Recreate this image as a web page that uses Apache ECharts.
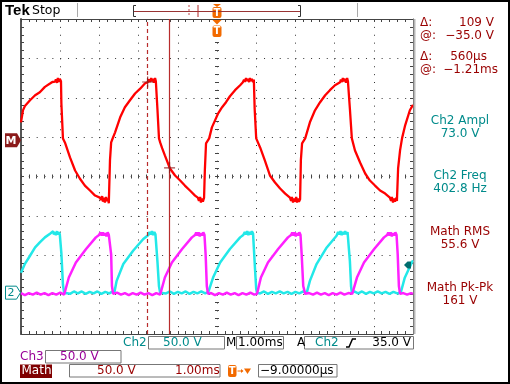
<!DOCTYPE html>
<html><head><meta charset="utf-8">
<script src="https://cdn.jsdelivr.net/npm/echarts@6/dist/echarts.min.js"></script>
<style>html,body{margin:0;padding:0;background:#fff}#c{width:510px;height:384px}</style>
</head><body><div id="c"></div>
<script>
// ---- data (time in ms relative to trigger, values in volts) ----
const timeRange = [-5, 5];
const mathData = [[-5.00,22.8],[-4.95,38.0],[-4.90,43.5],[-4.77,50.8],[-4.64,57.2],[-4.52,61.0],[-4.39,67.8],[-4.26,72.0],[-4.20,74.0],[-4.13,74.5],[-4.11,77.5],[-4.08,73.0],[-4.06,79.0],[-4.03,74.0],[-4.01,78.0],[-3.98,75.0],[-3.97,47.0],[-3.93,2.4],[-3.88,-2.7],[-3.75,-21.8],[-3.62,-38.4],[-3.50,-48.5],[-3.37,-57.5],[-3.24,-63.8],[-3.11,-70.2],[-2.99,-72.8],[-2.96,-76.0],[-2.93,-71.0],[-2.91,-78.0],[-2.88,-73.0],[-2.86,-79.0],[-2.83,-72.0],[-2.81,-77.0],[-2.78,-74.0],[-2.76,-80.0],[-2.73,-25.6],[-2.70,-2.7],[-2.68,0.0],[-2.60,10.1],[-2.47,29.2],[-2.35,41.9],[-2.22,50.8],[-2.09,59.4],[-1.96,65.5],[-1.84,72.0],[-1.76,74.0],[-1.74,77.5],[-1.71,74.0],[-1.68,79.0],[-1.66,75.0],[-1.63,78.0],[-1.61,73.0],[-1.58,79.0],[-1.56,75.0],[-1.53,77.0],[-1.52,40.0],[-1.48,2.4],[-1.45,-2.7],[-1.40,-10.0],[-1.33,-19.2],[-1.20,-35.8],[-1.07,-44.7],[-0.94,-51.1],[-0.82,-57.5],[-0.69,-63.8],[-0.56,-70.2],[-0.49,-72.8],[-0.46,-77.0],[-0.43,-72.0],[-0.41,-79.0],[-0.38,-74.0],[-0.36,-78.0],[-0.33,-73.0],[-0.31,-38.4],[-0.28,-4.0],[-0.20,2.4],[-0.13,16.4],[-0.05,25.3],[0.03,34.3],[0.13,42.0],[0.23,48.3],[0.33,55.9],[0.46,63.6],[0.59,69.9],[0.66,73.7],[0.69,77.0],[0.71,74.0],[0.74,79.0],[0.77,75.0],[0.79,78.0],[0.82,74.0],[0.84,79.0],[0.87,75.0],[0.89,78.0],[0.92,74.0],[0.94,77.0],[0.96,40.6],[1.00,2.4],[1.10,-9.1],[1.22,-25.6],[1.35,-44.7],[1.48,-53.6],[1.61,-61.3],[1.74,-67.7],[1.86,-72.8],[1.89,-77.0],[1.91,-72.0],[1.94,-79.0],[1.96,-74.0],[1.99,-78.0],[2.02,-72.0],[2.04,-79.0],[2.07,-74.0],[2.09,-78.0],[2.12,-75.0],[2.14,-25.0],[2.17,-4.0],[2.25,2.4],[2.37,22.8],[2.50,38.1],[2.63,48.3],[2.76,57.2],[2.88,63.6],[3.01,69.9],[3.14,73.7],[3.16,77.0],[3.19,74.0],[3.21,79.0],[3.24,75.0],[3.27,78.0],[3.29,73.0],[3.32,79.0],[3.34,75.0],[3.37,77.0],[3.39,40.0],[3.44,2.4],[3.52,-12.9],[3.65,-28.2],[3.78,-42.2],[3.90,-51.1],[4.03,-57.5],[4.16,-63.8],[4.29,-67.7],[4.41,-72.8],[4.44,-77.0],[4.46,-72.0],[4.49,-79.0],[4.52,-74.0],[4.54,-78.0],[4.57,-73.0],[4.59,-77.0],[4.62,-35.8],[4.67,-12.9],[4.72,2.4],[4.80,19.0],[4.92,38.1],[5.00,45.0]];
const ch2Data = [[-5.00,25.2],[-4.90,36.6],[-4.77,46.9],[-4.64,57.4],[-4.52,63.8],[-4.39,70.2],[-4.26,74.9],[-4.24,77.0],[-4.21,73.0],[-4.18,78.0],[-4.16,74.0],[-4.13,77.0],[-4.11,73.0],[-4.08,78.0],[-4.06,74.0],[-4.03,77.0],[-4.01,74.0],[-3.98,76.0],[-3.97,50.0],[-3.93,10.0],[-3.90,0.0],[-3.85,1.0],[-3.75,-1.5],[-3.65,1.5],[-3.55,-1.0],[-3.45,1.5],[-3.35,-1.5],[-3.25,1.0],[-3.15,-1.0],[-3.05,1.5],[-2.95,-1.5],[-2.85,1.0],[-2.75,-1.0],[-2.68,1.0],[-2.62,0.0],[-2.56,15.0],[-2.39,36.3],[-2.14,53.2],[-1.88,68.1],[-1.75,73.2],[-1.72,77.0],[-1.69,74.0],[-1.66,78.0],[-1.63,73.0],[-1.60,77.0],[-1.57,74.0],[-1.54,76.0],[-1.52,40.0],[-1.48,8.0],[-1.45,0.0],[-1.40,1.5],[-1.30,-1.0],[-1.20,1.5],[-1.10,-1.5],[-1.00,1.0],[-0.90,-1.0],[-0.80,1.5],[-0.70,-1.5],[-0.60,1.0],[-0.50,-1.0],[-0.40,1.5],[-0.30,-1.0],[-0.22,1.0],[-0.18,0.0],[-0.10,19.2],[0.08,38.3],[0.33,55.4],[0.59,70.2],[0.67,73.2],[0.71,77.0],[0.74,74.0],[0.77,78.0],[0.80,73.0],[0.83,77.0],[0.86,74.0],[0.89,78.0],[0.92,75.0],[0.94,74.0],[0.97,30.0],[1.00,5.0],[1.02,0.0],[1.10,-1.0],[1.20,1.5],[1.30,-1.5],[1.40,1.0],[1.50,-1.0],[1.60,1.5],[1.70,-1.0],[1.80,1.0],[1.90,-1.5],[2.00,1.0],[2.10,-1.0],[2.20,1.5],[2.25,-1.0],[2.29,0.0],[2.37,15.0],[2.54,36.3],[2.80,57.4],[3.05,72.3],[3.09,77.0],[3.12,74.0],[3.15,78.0],[3.18,73.0],[3.21,77.0],[3.24,74.0],[3.27,78.0],[3.30,74.0],[3.33,77.0],[3.36,75.0],[3.39,40.0],[3.42,8.0],[3.44,0.0],[3.50,1.5],[3.60,-1.0],[3.70,1.5],[3.80,-1.5],[3.90,1.0],[4.00,-1.0],[4.10,1.5],[4.20,-1.0],[4.30,1.0],[4.40,-1.5],[4.50,1.0],[4.60,-1.0],[4.69,0.5],[4.71,0.0],[4.79,19.0],[4.97,38.3],[5.00,41.0]];
const ch3Data = [[-5.00,1.0],[-4.90,-1.5],[-4.80,1.0],[-4.70,-1.0],[-4.60,1.5],[-4.50,-1.0],[-4.40,1.0],[-4.30,-1.5],[-4.20,1.0],[-4.10,-1.0],[-4.00,1.5],[-3.90,-1.0],[-3.85,0.0],[-3.78,20.7],[-3.60,39.8],[-3.34,56.9],[-3.09,71.7],[-3.01,74.7],[-2.97,78.0],[-2.94,74.0],[-2.91,78.0],[-2.88,74.0],[-2.85,77.0],[-2.82,73.0],[-2.79,78.0],[-2.76,75.0],[-2.73,77.0],[-2.70,50.0],[-2.68,10.0],[-2.65,0.0],[-2.55,1.5],[-2.45,-1.0],[-2.35,1.0],[-2.25,-1.5],[-2.15,1.0],[-2.05,-1.0],[-1.95,1.5],[-1.85,-1.0],[-1.75,1.0],[-1.65,-1.5],[-1.55,1.0],[-1.45,-1.0],[-1.40,0.0],[-1.33,20.7],[-1.15,39.8],[-0.89,56.9],[-0.64,71.7],[-0.56,74.7],[-0.53,78.0],[-0.50,74.0],[-0.47,78.0],[-0.44,73.0],[-0.41,77.0],[-0.38,74.0],[-0.35,78.0],[-0.32,75.0],[-0.29,50.0],[-0.26,10.0],[-0.23,0.0],[-0.15,1.0],[-0.05,-1.5],[0.05,1.0],[0.15,-1.0],[0.25,1.5],[0.35,-1.0],[0.45,1.0],[0.55,-1.5],[0.65,1.0],[0.75,-1.0],[0.85,1.5],[0.95,-1.0],[1.02,0.0],[1.05,0.0],[1.12,20.7],[1.30,39.8],[1.56,56.9],[1.81,71.7],[1.89,74.7],[1.92,78.0],[1.95,74.0],[1.98,78.0],[2.01,73.0],[2.04,77.0],[2.07,74.0],[2.10,78.0],[2.13,75.0],[2.16,50.0],[2.20,10.0],[2.25,0.0],[2.35,1.0],[2.45,-1.0],[2.55,1.5],[2.65,-1.0],[2.75,1.0],[2.85,-1.5],[2.95,1.0],[3.05,-1.0],[3.15,1.5],[3.25,-1.0],[3.35,1.0],[3.45,0.0],[3.50,0.0],[3.57,20.7],[3.75,39.8],[4.01,56.9],[4.26,71.7],[4.34,74.7],[4.37,78.0],[4.40,74.0],[4.43,78.0],[4.46,73.0],[4.49,77.0],[4.52,74.0],[4.55,78.0],[4.58,75.0],[4.61,50.0],[4.64,10.0],[4.67,0.0],[4.75,1.0],[4.85,-1.0],[4.95,1.0],[5.00,0.0]];
const cursorTimes = [-1.77, -1.21];
const cursorVolts = [74, -35];
const trigLevel = 35;
// vertical scales: V/div and offset of zero in divisions from screen centre
const mathScale = [50, 0.92];
const ch2Scale = [50, -2.95];
const ch3Scale = [50, -2.98];
const cursorReadout = [['Δ:', '109 V'], ['@:', '−35.0 V'], ['Δ:', '560µs'], ['@:', '−1.21ms']];
const measLabels = [['Ch2 Ampl', '73.0 V'], ['Ch2 Freq', '402.8 Hz'], ['Math RMS', '55.6 V'], ['Math Pk-Pk', '161 V']];

// ---- chart ----
const DIVS_Y = 4;
function rangeFor(s) { return [(-DIVS_Y - s[1]) * s[0], (DIVS_Y - s[1]) * s[0]]; }
const mR = rangeFor(mathScale), c2R = rangeFor(ch2Scale), c3R = rangeFor(ch3Scale);

const chart = echarts.init(document.getElementById('c'), null, {renderer: 'canvas', width: 510, height: 384});
const dark = '#444';
function xAx(pos, extra) {
  return Object.assign({type: 'value', min: timeRange[0], max: timeRange[1], interval: 1, position: pos,
    axisLabel: {show: false}, splitLine: {show: false}}, extra);
}
function yAx(pos, extra) {
  return Object.assign({type: 'value', min: -4, max: 4, interval: 1, position: pos,
    axisLabel: {show: false}, splitLine: {show: false}}, extra);
}
const bTick = {show: true, inside: true, length: 3, lineStyle: {color: dark, width: 1}};
const bMinor = {show: true, splitNumber: 5, length: 3, lineStyle: {color: dark, width: 1}};
const cTickIn = {show: true, inside: true, length: 2, lineStyle: {color: '#444', width: 1}};
const cTickOut = {show: true, inside: false, length: 2, lineStyle: {color: '#444', width: 1}};
const cMinor = {show: true, splitNumber: 5, length: 2, lineStyle: {color: '#444', width: 1}};
const clear = 'rgba(0,0,0,0)';
const cursorColor = '#b82c2c';

chart.setOption({
  animation: false,
  backgroundColor: '#fff',
  grid: {left: 21, top: 19, width: 392, height: 315, containLabel: false},
  xAxis: [
    xAx('bottom', {axisLine: {show: true, onZero: false, lineStyle: {color: dark, width: 1}}, axisTick: bTick, minorTick: bMinor,
      splitLine: {show: true, lineStyle: {color: '#333', width: 1, type: [1, 6.875]}}}),
    xAx('top', {axisLine: {show: true, onZero: false, lineStyle: {color: dark, width: 1}}, axisTick: bTick, minorTick: bMinor}),
    xAx('bottom', {axisLine: {show: true, onZero: true, onZeroAxisIndex: 0, lineStyle: {color: clear}}, axisTick: cTickIn, minorTick: cMinor}),
    xAx('bottom', {axisLine: {show: true, onZero: true, onZeroAxisIndex: 0, lineStyle: {color: clear}}, axisTick: cTickOut, minorTick: cMinor})
  ],
  yAxis: [
    yAx('left', {axisLine: {show: true, onZero: false, lineStyle: {color: '#555', width: 2}}, axisTick: bTick, minorTick: bMinor,
      splitLine: {show: true, lineStyle: {color: '#333', width: 1, type: [1, 6.84]}}}),
    yAx('right', {axisLine: {show: true, onZero: false, lineStyle: {color: dark, width: 1}}, axisTick: bTick, minorTick: bMinor}),
    yAx('left', {axisLine: {show: true, onZero: true, onZeroAxisIndex: 0, lineStyle: {color: clear}}, axisTick: cTickIn, minorTick: cMinor}),
    yAx('left', {axisLine: {show: true, onZero: true, onZeroAxisIndex: 0, lineStyle: {color: clear}}, axisTick: cTickOut, minorTick: cMinor}),
    {type: 'value', min: mR[0], max: mR[1], show: false},
    {type: 'value', min: c2R[0], max: c2R[1], show: false},
    {type: 'value', min: c3R[0], max: c3R[1], show: false}
  ],
  series: [
    {type: 'line', name: 'Ch2', xAxisIndex: 0, yAxisIndex: 5, data: ch2Data, symbol: 'none', showSymbol: false,
      lineStyle: {color: '#22e8e8', width: 2.5}, z: 2},
    {type: 'line', name: 'Ch3', xAxisIndex: 0, yAxisIndex: 6, data: ch3Data, symbol: 'none', showSymbol: false,
      lineStyle: {color: '#ff20ff', width: 2.5}, z: 3},
    {type: 'line', name: 'Math', xAxisIndex: 0, yAxisIndex: 4, data: mathData, symbol: 'none', showSymbol: false,
      lineStyle: {color: '#ff0000', width: 2.3}, z: 4,
      markLine: {silent: true, symbol: 'none', animation: false, label: {show: false}, z: 6,
        lineStyle: {color: cursorColor, width: 1, type: 'solid', opacity: 1},
        emphasis: {disabled: true},
        data: [
          {xAxis: cursorTimes[0], lineStyle: {color: cursorColor, width: 1.2, type: [4, 3], opacity: 1}},
          {xAxis: cursorTimes[1], lineStyle: {color: cursorColor, width: 1.2, type: 'solid', opacity: 1}}
        ]}},
    {type: 'scatter', name: 'cursor', xAxisIndex: 0, yAxisIndex: 4, data: cursorTimes.map((t, i) => [t, cursorVolts[i]]),
      symbol: 'path://M4,0h1v4h4v1h-4v4h-1v-4h-4v-1h4z', symbolSize: 11, itemStyle: {color: '#8b1a1a'}, z: 7, silent: true}
  ]
});

// ---- decorations positioned from the axes ----
const tx = chart.convertToPixel({xAxisIndex: 0}, 0);
const my = chart.convertToPixel({yAxisIndex: 4}, 0);
const c2y = chart.convertToPixel({yAxisIndex: 5}, 0);
const tly = chart.convertToPixel({yAxisIndex: 5}, trigLevel);

const F = '12px "DejaVu Sans"';
const red = '#990000', teal = '#008b8b', purple = '#990099', orange = '#f26a00';
function T(x, y, s, fill, align, font) {
  align = align || 'left';
  return {type: 'text', x: x, y: y, z: 100, silent: true,
    style: {text: s, fill: fill, font: font || F, align: align, textAlign: align, verticalAlign: 'middle', textVerticalAlign: 'middle'}};
}
function R(x, y, w, h, fill, stroke, r) {
  return {type: 'rect', z: 90, silent: true, shape: {x: x, y: y, width: w, height: h, r: r || 0},
    style: {fill: fill || 'none', stroke: stroke || null, lineWidth: 1}};
}
function L(x1, y1, x2, y2, stroke, w, dash) {
  return {type: 'line', z: 95, silent: true, shape: {x1: x1, y1: y1, x2: x2, y2: y2},
    style: {stroke: stroke, lineWidth: w || 1, lineDash: dash || null}};
}
function P(points, fill, stroke) {
  return {type: 'polygon', z: 96, silent: true, shape: {points: points}, style: {fill: fill, stroke: stroke || null, lineWidth: 1}};
}
function PL(points, stroke, w) {
  return {type: 'polyline', z: 96, silent: true, shape: {points: points}, style: {stroke: stroke, lineWidth: w || 1, fill: null}};
}
function tIcon(x, y, w, h) {
  return [R(x, y, w, h, orange, null, 2), T(x + w / 2, y + h / 2 + 0.5, 'T', '#fff', 'center', 'bold 10px "DejaVu Sans"')];
}

const els = [];
// header
els.push(T(5, 11, 'Tek', '#000', 'left', 'bold 15px "Liberation Sans"'));
els.push(T(32, 11, 'Stop', '#000', 'left', '12.5px "DejaVu Sans"'));
els.push(L(77.5, 3, 77.5, 17, '#aaa', 1));
els.push(L(357.5, 3, 357.5, 17, '#aaa', 1));
els.push(PL([[136, 5.5], [133.5, 5.5], [133.5, 16.5], [136, 16.5]], '#333', 1));
els.push(PL([[298, 5.5], [300.5, 5.5], [300.5, 16.5], [298, 16.5]], '#333', 1));
els.push(L(134, 11.5, 300, 11.5, '#993333', 1));
els.push(L(189, 5, 189, 17, '#c04848', 1, [2, 2]));
els.push(L(198, 5, 198, 17, '#b02828', 1));
els.push(P([[tx - 4, 4], [tx + 4, 4], [tx, 7]], orange));
els.push(...tIcon(tx - 4.5, 7, 9, 11));
// trigger position marker under header
els.push(P([[tx - 4.5, 20], [tx + 4.5, 20], [tx, 24.5]], orange));
els.push(...tIcon(tx - 4.5, 25.5, 9, 11.5));
// reference markers on the left
els.push(P([[5, my - 7], [17, my - 7], [21, my], [17, my + 7], [5, my + 7]], '#8b1a1a'));
els.push(T(11, my + 0.5, 'M', '#fff', 'center', 'bold 11px "DejaVu Sans"'));
els.push(P([[5.5, c2y - 6.5], [16.5, c2y - 6.5], [20.5, c2y], [16.5, c2y + 6.5], [5.5, c2y + 6.5]], '#fff', teal));
els.push(T(11, c2y + 0.5, '2', teal, 'center', '11px "DejaVu Sans"'));
// trigger level marker on the right edge
els.push(P([[404, tly], [407.5, tly - 3.5], [411, tly - 3.5], [411, tly + 3.5], [407.5, tly + 3.5]], '#006e6e'));
// right border band
els.push(R(413.5, 19, 2, 315, '#b8b8b8', null));
// cursor readouts
const roY = [23, 36, 57, 70];
const roRight = [494, 494, 487, 498];
cursorReadout.forEach((r, i) => {
  els.push(T(420, roY[i], r[0], red));
  els.push(T(roRight[i], roY[i], r[1], red, 'right'));
});
// measurements
const mY = [121, 176, 232, 288];
const mCol = [teal, teal, red, red];
measLabels.forEach((m, i) => {
  els.push(T(460, mY[i], m[0], mCol[i], 'center'));
  els.push(T(460, mY[i] + 13, m[1], mCol[i], 'center'));
});
// bottom status rows
const r1 = 343, r2 = 357, r3 = 371;
els.push(T(123, r1, 'Ch2', teal));
els.push(R(148.5, 336.5, 76, 12.5, '#fff', '#777'));
els.push(T(163, r1, '50.0 V', teal));
els.push(T(226, r1, 'M', '#000'));
els.push(R(236.5, 336.5, 47, 12.5, '#fff', '#777'));
els.push(T(238, r1, '1.00ms', '#000'));
els.push(T(297, r1, 'A', '#000'));
els.push(R(304.5, 336.5, 109, 12.5, '#fff', '#777'));
els.push(T(315, r1, 'Ch2', teal));
els.push(PL([[346, 347], [349, 347], [352.5, 339], [356, 339]], '#000', 1.5));
els.push(T(411, r1, '35.0 V', '#000', 'right'));
els.push(T(20, r2, 'Ch3', purple));
els.push(R(45.5, 350.5, 75.5, 12.5, '#fff', '#777'));
els.push(T(60, r2, '50.0 V', purple));
els.push(R(20, 364.5, 32, 13.5, '#800000', null));
els.push(T(21.5, r3, 'Math', '#fff'));
els.push(R(69.5, 364.5, 150.5, 12.5, '#fff', '#777'));
els.push(T(97, r3, '50.0 V', red));
els.push(T(175, r3, '1.00ms', red));
els.push(...tIcon(228, 365, 8.5, 12));
els.push(L(237.5, 371, 242.5, 371, orange, 1));
els.push(P([[241, 369], [243.5, 371], [241, 373]], orange));
els.push(P([[244, 368.5], [251, 368.5], [247.5, 374]], orange));
els.push(R(258.5, 364.5, 78.5, 12.5, '#fff', '#777'));
els.push(T(260, r3, '−9.00000µs', '#000'));
// outer frame
els.push(Object.assign(R(1, 1, 508, 382, 'none', '#000'), {style: {fill: 'none', stroke: '#000', lineWidth: 2}}));

chart.setOption({graphic: {elements: els}});
</script>
</body></html>
